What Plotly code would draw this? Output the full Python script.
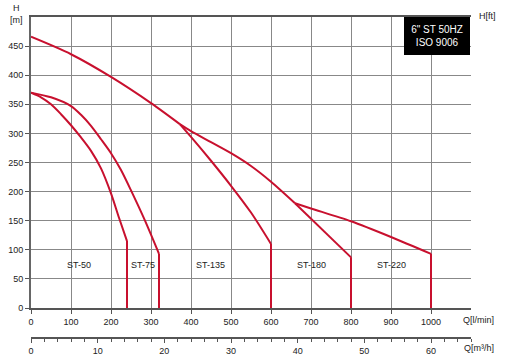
import plotly.graph_objects as go

# ---- data (Q in l/min, H in m) ----
st50_q = [0, 25, 50, 75, 100, 125, 150, 175, 200, 220, 240]
st50_h = [370, 362, 350, 333, 314, 293, 270, 240, 197, 155, 115]

st75_q = [0, 50, 100, 125, 150, 175, 200, 225, 250, 285, 320]
st75_h = [370, 362, 347, 332, 313, 290, 266, 237, 202, 150, 93]

top_q = [0, 100, 200, 300, 372]
top_h = [466, 436, 397, 352, 316]

st135_q = [372, 400, 450, 500, 550, 600]
st135_h = [316, 294, 253, 210, 164, 110]

mid_q = [372, 400, 450, 500, 550, 600, 660]
mid_h = [316, 304, 285, 266, 244, 217, 180]

st220_q = [660, 700, 800, 900, 1000]
st220_h = [180, 171, 149, 122, 93]

st180_q = [660, 800]
st180_h = [180, 87]

# end-of-curve drop lines (Q, H at end)
drop_q = [240, 320, 600, 800, 1000]
drop_h = [115, 93, 110, 87, 93]

labels = ["ST-50", "ST-75", "ST-135", "ST-180", "ST-220"]
label_q = [120, 279, 449, 700, 900]
label_h = 74

q_ticks = list(range(0, 1001, 100))
h_ticks = list(range(0, 451, 50))
ft_major = list(range(0, 1401, 200))
ft_minor = [100, 300, 500, 700, 900, 1100, 1300, 1500, 1600]

M_TO_FT = 3.28084
LMIN_TO_M3H = 0.06

RED = "#c8102e"
FONT = "Liberation Sans, Arial, sans-serif"

fig = go.Figure()

def curve(q, h, shape="spline"):
    fig.add_trace(go.Scatter(x=q, y=h, mode="lines",
                             line=dict(color=RED, width=2, shape=shape, smoothing=0.8),
                             hoverinfo="skip", showlegend=False))

curve(st50_q, st50_h)
curve(st75_q, st75_h)
curve(top_q, top_h)
curve(st135_q, st135_h)
curve(mid_q, mid_h)
curve(st220_q, st220_h)
curve(st180_q, st180_h, "linear")
for q, h in zip(drop_q, drop_h):
    curve([q, q], [h, 0], "linear")

for t, q in zip(labels, label_q):
    fig.add_annotation(x=q, y=label_h, xref="x", yref="y", text=t, showarrow=False,
                       xanchor="center", yanchor="middle",
                       font=dict(size=9, color="#222", family=FONT))

W, H = 506, 362
ml, mr, mt, mb = 31, 35, 17, 24
plot_w = W - ml - mr
plot_h = H - mt - mb
dom_bottom = (H - mb - 308) / plot_h

def px(xp):
    return (xp - ml) / plot_w

def py(yp):
    return (H - mb - yp) / plot_h

tickfont = dict(size=9, color="#222", family=FONT)

fig.update_layout(
    width=W, height=H,
    margin=dict(l=ml, r=mr, t=mt, b=mb, autoexpand=False),
    paper_bgcolor="white", plot_bgcolor="white",
    font=dict(family=FONT, size=9, color="#222"),
    xaxis=dict(range=[0, 1100], tickvals=q_ticks, ticks="outside", ticklen=4,
               tickcolor="#555", showline=True, linecolor="#555", linewidth=1.5,
               mirror=True, showgrid=True, gridcolor="#888", gridwidth=1,
               zeroline=False, tickfont=tickfont, automargin=False),
    yaxis=dict(range=[0, 500], domain=[dom_bottom, 1], tickvals=h_ticks,
               ticks="outside", ticklen=4, tickcolor="#555", showline=True,
               linecolor="#666", linewidth=2, showgrid=True, gridcolor="#888",
               gridwidth=1, zeroline=False, tickfont=tickfont, automargin=False),
    yaxis2=dict(range=[0, 500 * M_TO_FT], overlaying="y", side="right", anchor="x",
                tickvals=ft_major, ticks="outside", ticklen=5, tickcolor="#555",
                minor=dict(tickmode="array", tickvals=ft_minor, ticklen=3,
                           tickcolor="#555", ticks="outside"),
                showline=True, linecolor="#666", linewidth=2, showgrid=False,
                zeroline=False, tickfont=tickfont, automargin=False),
    xaxis2=dict(range=[0, 1100 * LMIN_TO_M3H], overlaying="x", anchor="free",
                position=0, side="bottom", dtick=10, tick0=0, ticks="outside",
                ticklen=4, tickcolor="#555",
                minor=dict(dtick=2, ticklen=3, tickcolor="#555", ticks="outside"),
                showline=True, linecolor="#555", linewidth=1.5, showgrid=False,
                zeroline=False, tickfont=tickfont, automargin=False),
)

# invisible trace bound to the m3/h axis so it is drawn
fig.add_trace(go.Scatter(x=[q * LMIN_TO_M3H for q in drop_q], y=drop_h, xaxis="x2",
                         yaxis="y", mode="markers", marker=dict(opacity=0),
                         hoverinfo="skip", showlegend=False))

# axis titles
def title(text, xp, yp):
    fig.add_annotation(x=px(xp), y=py(yp), xref="paper", yref="paper", text=text,
                       showarrow=False, xanchor="center", yanchor="middle",
                       font=tickfont)

title("H", 16, 8)
title("[m]", 16, 20)
title("H[ft]", 487, 16)
title("Q[l/min]", 479, 320)
title("Q[m³/h]", 479, 348)

# black info box
fig.add_annotation(x=px(470), y=py(17), xref="paper", yref="paper",
                   xanchor="right", yanchor="top", text='6" ST 50HZ<br>ISO 9006',
                   showarrow=False, bgcolor="black", width=62, height=34,
                   borderpad=2, borderwidth=0,
                   font=dict(size=10, color="white", family=FONT))

fig.write_html("out.html", config={"displayModeBar": False},
               post_script="document.body.style.margin='0';document.body.style.overflow='hidden';")
